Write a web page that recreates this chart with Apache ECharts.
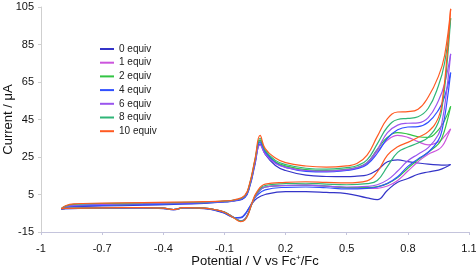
<!DOCTYPE html>
<html>
<head>
<meta charset="utf-8">
<script src="https://cdn.jsdelivr.net/npm/echarts@6/dist/echarts.min.js"></script>
<style>html,body{margin:0;padding:0;background:#fff;overflow:hidden}#c{width:476px;height:269px}</style>
</head>
<body>
<div id="c"></div>
<script>
// Potential grids (V vs Fc+/Fc)
const potentialForward = [-0.9, -0.88, -0.84, -0.7, -0.5, -0.35, -0.2, -0.1, -0.05, 0.0, 0.025, 0.05, 0.075, 0.1, 0.15, 0.2, 0.3, 0.4, 0.5, 0.55, 0.6, 0.65, 0.7, 0.75, 0.8, 0.85, 0.9, 0.95, 0.98, 1.01];
const potentialReverse = [1.01, 0.99, 0.97, 0.95, 0.9, 0.85, 0.8, 0.75, 0.7, 0.65, 0.6, 0.5, 0.4, 0.3, 0.2, 0.1, 0.06, 0.035, 0.017, 0.0, -0.02, -0.05, -0.1, -0.15, -0.2, -0.3, -0.35, -0.4, -0.5, -0.7, -0.88, -0.9];

const seriesNames = ['0 equiv', '1 equiv', '2 equiv', '4 equiv', '6 equiv', '8 equiv', '10 equiv'];
const seriesColors = ['#3434c8', '#cc55dd', '#33c444', '#3050ff', '#9a55ee', '#2fb577', '#ff5a22'];

// Current (µA), forward scans
const fwd0  = [-2.8, -2, -1.5, -1.1, -0.7, -0.3, 0.3, 1, 1.6, 3.4, 9.5, 21, 32, 26.5, 20.5, 17.8, 15.3, 14.6, 14.5, 14.8, 15.4, 18, 22.5, 23.5, 22.5, 21.8, 21.2, 20.8, 20.7, 21];
const fwd1  = [-2.6, -1.6, -1, -0.6, -0.2, 0.2, 0.7, 1.3, 1.9, 4, 10.6, 22.5, 33.5, 27.5, 22, 19.8, 17.8, 17.3, 18, 19, 21.5, 28, 34, 36.5, 35.5, 33.2, 31.5, 33, 36, 40];
const fwd2  = [-2.6, -1.6, -1, -0.6, -0.2, 0.2, 0.7, 1.3, 1.9, 4, 10.8, 23, 34, 28, 22.5, 20.3, 18.3, 17.8, 18.5, 19.5, 22, 29, 35.5, 38, 37.2, 35.8, 35.5, 39.5, 44.5, 52];
const fwd4  = [-2.8, -1.8, -1.2, -0.8, -0.4, 0, 0.5, 1.1, 1.7, 3.6, 10, 22, 33, 27.5, 22, 19.5, 17.3, 17, 17.8, 18.8, 21, 27, 35, 39.5, 41, 41.2, 43.5, 50, 57, 70];
const fwd6  = [-2.6, -1.5, -0.8, -0.3, 0.1, 0.4, 0.8, 1.3, 1.9, 4, 10.5, 22, 31.5, 26.5, 21.5, 19.5, 17.8, 17.5, 18.3, 19.3, 22, 29, 38, 42, 43, 43.2, 46, 55, 64, 80];
const fwd8  = [-2.5, -1.2, -0.3, 0.2, 0.5, 0.7, 1.0, 1.5, 2.1, 4.3, 11, 23.5, 35, 28.5, 23.2, 21, 19, 18.5, 19.3, 20.3, 23.5, 32, 41, 45, 45.6, 46.5, 51, 63, 75, 99];
const fwd10 = [-2.5, -1, 0, 0.4, 0.7, 0.9, 1.2, 1.6, 2.2, 4.5, 11.5, 24, 36.5, 29.5, 24.5, 22, 20.2, 19.6, 20.3, 21.5, 26, 36, 45.5, 49, 49.2, 50.5, 57, 68, 79, 104];

// Current (µA), reverse scans
const rev0  = [21, 19.8, 18.8, 18, 17, 15.8, 13.5, 11.5, 7.3, 2.3, 3.2, 5.5, 6.1, 6.5, 6.5, 5, 3, 0, -2.8, -5.5, -7.2, -7.3, -5, -3.3, -2.5, -2.2, -3.2, -2.5, -2.2, -2.3, -2.6, -2.8];
const rev1  = [40, 35, 31, 29, 26.5, 22.5, 17.5, 12.5, 9.5, 8.3, 8.2, 8.6, 9.4, 10, 9.8, 9, 5.5, 0, -5, -8.1, -9, -7.5, -4.4, -3, -2.3, -2, -3, -2.3, -2, -2.1, -2.4, -2.6];
const rev2  = [52, 43, 36, 32, 27.5, 23.5, 19, 14, 10.8, 9.2, 8.7, 8.7, 9.5, 10, 9.8, 9, 5.5, 0, -5, -8.2, -9.1, -7.5, -4.4, -3, -2.3, -2, -3, -2.3, -2, -2.1, -2.4, -2.6];
const rev4  = [70, 53, 40.5, 34, 27.5, 24, 20, 14.5, 11, 9, 8.3, 8, 8.6, 9, 8.8, 7.5, 4.5, 0.5, -3, -5.8, -7.5, -7.3, -4.8, -3.2, -2.4, -2.1, -3, -2.4, -2.1, -2.2, -2.5, -2.8];
const rev6  = [80, 60, 45, 37, 30, 26.5, 23, 17.5, 12.8, 10.2, 9.3, 9, 9.5, 10, 9.8, 9, 5.5, 0, -5, -8, -9, -7.5, -4.4, -3, -2.3, -2, -3, -2.3, -2, -2.1, -2.4, -2.6];
const rev8  = [99, 72, 53, 43.5, 35.5, 32.5, 30.3, 27.5, 20, 12.5, 10.8, 10.2, 10.5, 11, 10.8, 9.8, 6, 0.3, -5.3, -8.4, -9.2, -7.6, -4.4, -3, -2.3, -2, -3, -2.3, -2, -2.1, -2.4, -2.5];
const rev10 = [104, 76, 56, 46, 38.5, 35.5, 32.8, 30.5, 26, 17, 12.3, 11.2, 11.5, 11.8, 11.5, 10.5, 6.5, 0.5, -5.5, -8.7, -9.5, -7.8, -4.5, -3, -2.3, -2, -3, -2.3, -2, -2.1, -2.4, -2.5];

const xTicks = { min: -1, max: 1.1, interval: 0.3 };
const yTicks = { min: -15, max: 105, interval: 20 };

const forwardCurrents = [fwd0, fwd1, fwd2, fwd4, fwd6, fwd8, fwd10];
const reverseCurrents = [rev0, rev1, rev2, rev4, rev6, rev8, rev10];

const FONT = "'Liberation Sans', Arial, sans-serif";
const series = [];
seriesNames.forEach((name, k) => {
  const common = {
    name: name, type: 'line', showSymbol: false, symbol: 'none',
    smooth: 0.45,
    lineStyle: { width: 1.2, color: seriesColors[k] },
    itemStyle: { color: seriesColors[k] },
    animation: false
  };
  series.push(Object.assign({}, common, {
    data: forwardCurrents[k].map((v, i) => [potentialForward[i], v])
  }));
  series.push(Object.assign({}, common, {
    data: reverseCurrents[k].map((v, i) => [potentialReverse[i], v])
  }));
});

const chart = echarts.init(document.getElementById('c'), null, { renderer: 'canvas' });
chart.setOption({
  animation: false,
  backgroundColor: '#fff',
  textStyle: { fontFamily: FONT },
  grid: { left: 41, right: 7, top: 7, bottom: 37, containLabel: false, outerBoundsMode: 'none' },
  legend: {
    data: seriesNames,
    orient: 'vertical',
    left: 100, top: 43, padding: 0,
    itemWidth: 14, itemHeight: 2, itemGap: 1.7,
    icon: 'rect',
    textStyle: { fontFamily: FONT, fontSize: 10, color: '#222', lineHeight: 12 }
  },
  xAxis: {
    type: 'value', min: xTicks.min, max: xTicks.max, interval: xTicks.interval,
    name: 'Potential / V vs Fc{sup|+}/Fc',
    nameLocation: 'middle', nameGap: 22, nameMoveOverlap: false,
    nameTextStyle: { fontFamily: FONT, fontSize: 13, color: '#111',
      rich: { sup: { fontFamily: FONT, fontSize: 8, color: '#111', verticalAlign: 'top', lineHeight: 15 } } },
    axisLine: { onZero: false, lineStyle: { color: '#c4c4dc', width: 1 } },
    axisTick: { show: true, length: 3, lineStyle: { color: '#c4c4dc' } },
    axisLabel: { fontFamily: FONT, fontSize: 11, color: '#111', margin: 11 },
    splitLine: { show: false }
  },
  yAxis: {
    type: 'value', min: yTicks.min, max: yTicks.max, interval: yTicks.interval,
    name: 'Current / μA',
    nameLocation: 'middle', nameGap: 26, nameRotate: 90, nameMoveOverlap: false,
    nameTextStyle: { fontFamily: FONT, fontSize: 13, color: '#111' },
    axisLine: { show: true, onZero: false, lineStyle: { color: '#cfcfcf', width: 1 } },
    axisTick: { show: true, length: 3, lineStyle: { color: '#cfcfcf' } },
    axisLabel: { fontFamily: FONT, fontSize: 11, color: '#111', margin: 7 },
    splitLine: { show: false }
  },
  series: series
});
</script>
</body>
</html>
